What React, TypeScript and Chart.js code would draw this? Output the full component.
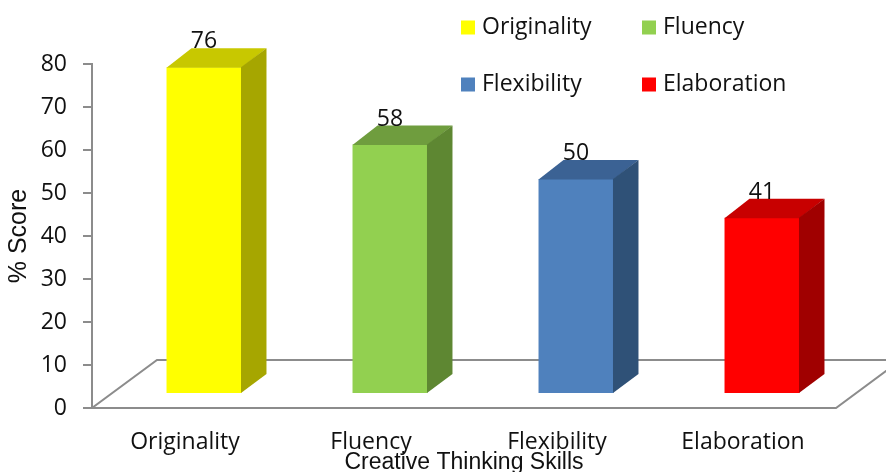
import { useEffect, useRef } from 'react';
import { Chart, registerables } from 'chart.js';

Chart.register(...registerables);

const categories = ['Originality', 'Fluency', 'Flexibility', 'Elaboration'];
const scores = [76, 58, 50, 41];
const frontColors = ['#FFFF00', '#92D050', '#4F81BD', '#FF0000'];
const topColors = ['#C8C800', '#6F9D3E', '#3B6294', '#C80000'];
const sideColors = ['#A6A600', '#5E8732', '#2F5177', '#A00000'];
const yMin = 0;
const yMax = 80;
const yStep = 10;
const xTitle = 'Creative Thinking Skills';
const yTitle = '% Score';

const FRONT_DX = 19;
const FRONT_DY = -14;
const DEPTH_DX = 25;
const DEPTH_DY = -19;
const FLOOR_DX = 65;
const FLOOR_DY = -48;
const TEXT = '#111111';
const AXIS = '#8c8c8c';

const threeD = {
  id: 'threeD',
  beforeDatasetsDraw(chart: any) {
    const { ctx, chartArea: a } = chart;
    ctx.save();
    ctx.strokeStyle = AXIS;
    ctx.lineWidth = 2;
    ctx.lineJoin = 'miter';
    ctx.beginPath();
    ctx.moveTo(a.left, a.bottom);
    ctx.lineTo(a.right, a.bottom);
    ctx.lineTo(a.right + FLOOR_DX, a.bottom + FLOOR_DY);
    ctx.lineTo(a.left + FLOOR_DX, a.bottom + FLOOR_DY);
    ctx.closePath();
    ctx.stroke();
    ctx.restore();
    ctx.save();
    ctx.translate(FRONT_DX, FRONT_DY);
  },
  afterDatasetsDraw(chart: any) {
    const { ctx } = chart;
    ctx.restore();
    const meta = chart.getDatasetMeta(0);
    const data = chart.data.datasets[0].data;
    meta.data.forEach((el: any, i: number) => {
      const { x, y, base, width } = el.getProps(['x', 'y', 'base', 'width'], true);
      const l = x - width / 2 + FRONT_DX;
      const r = x + width / 2 + FRONT_DX;
      const t = y + FRONT_DY;
      const b = base + FRONT_DY;
      ctx.save();
      ctx.fillStyle = topColors[i];
      ctx.beginPath();
      ctx.moveTo(l, t + 0.5);
      ctx.lineTo(r, t + 0.5);
      ctx.lineTo(r + DEPTH_DX, t + DEPTH_DY);
      ctx.lineTo(l + DEPTH_DX, t + DEPTH_DY);
      ctx.closePath();
      ctx.fill();
      ctx.fillStyle = sideColors[i];
      ctx.beginPath();
      ctx.moveTo(r - 0.5, t);
      ctx.lineTo(r + DEPTH_DX, t + DEPTH_DY);
      ctx.lineTo(r + DEPTH_DX, b + DEPTH_DY);
      ctx.lineTo(r - 0.5, b);
      ctx.closePath();
      ctx.fill();
      ctx.fillStyle = TEXT;
      ctx.font = '23px "Open Sans"';
      ctx.textAlign = 'center';
      ctx.textBaseline = 'alphabetic';
      ctx.fillText(String(data[i]), x + FRONT_DX, t + DEPTH_DY);
      ctx.restore();
    });
  },
  afterDraw(chart: any) {
    const { ctx } = chart;
    const labels = chart.data.labels;
    const colors = chart.data.datasets[0].backgroundColor;
    const cols = [461, 642];
    const rows = [27.5, 84.5];
    ctx.save();
    ctx.font = '23px "Open Sans"';
    ctx.textAlign = 'left';
    ctx.textBaseline = 'middle';
    labels.forEach((lab: string, i: number) => {
      const cx = cols[i % 2];
      const cy = rows[Math.floor(i / 2)];
      ctx.fillStyle = colors[i];
      ctx.fillRect(cx, cy - 7, 14, 14);
      ctx.fillStyle = TEXT;
      ctx.fillText(lab, cx + 21, cy);
    });
    ctx.restore();
  },
};

export default function App() {
  const ref = useRef<HTMLCanvasElement | null>(null);
  useEffect(() => {
    if (!ref.current) return;
    const chart = new Chart(ref.current, {
      type: 'bar',
      data: {
        labels: categories,
        datasets: [
          {
            data: scores,
            backgroundColor: frontColors,
            borderWidth: 0,
            barPercentage: 0.403,
            categoryPercentage: 1,
            clip: false as any,
          },
        ],
      },
      options: {
        responsive: false,
        animation: false,
        layout: { padding: { top: 64, right: 50, left: 0, bottom: 0 } },
        plugins: {
          legend: { display: false },
          tooltip: { enabled: false },
        },
        scales: {
          x: {
            afterFit: (s: any) => {
              s.height = 64;
            },
            grid: { display: false, drawTicks: false },
            border: { display: false },
            ticks: {
              color: TEXT,
              padding: 21,
              font: { family: '"Open Sans"', size: 23 },
              maxRotation: 0,
            },
            title: {
              display: true,
              text: xTitle,
              color: TEXT,
              font: { family: '"Liberation Sans"', size: 23 },
              padding: { top: 0, bottom: -4 },
            },
          },
          y: {
            min: yMin,
            max: yMax,
            afterFit: (s: any) => {
              s.width = 92;
            },
            ticks: {
              stepSize: yStep,
              color: TEXT,
              padding: 16,
              font: { family: '"Open Sans"', size: 23 },
            },
            grid: {
              drawOnChartArea: false,
              drawTicks: true,
              tickLength: 9,
              color: AXIS,
              lineWidth: 2,
            },
            border: { display: true, color: AXIS, width: 2 },
            title: {
              display: true,
              text: yTitle,
              color: TEXT,
              font: { family: '"Liberation Sans"', size: 25 },
              padding: { top: 4, bottom: 0 },
            },
          },
        },
      },
      plugins: [threeD],
    });
    return () => chart.destroy();
  }, []);
  return (
    <div style={{ position: 'fixed', left: 0, top: 0, width: 886, height: 472, background: '#fff' }}>
      <canvas ref={ref} width={886} height={472} style={{ display: 'block' }} />
    </div>
  );
}
